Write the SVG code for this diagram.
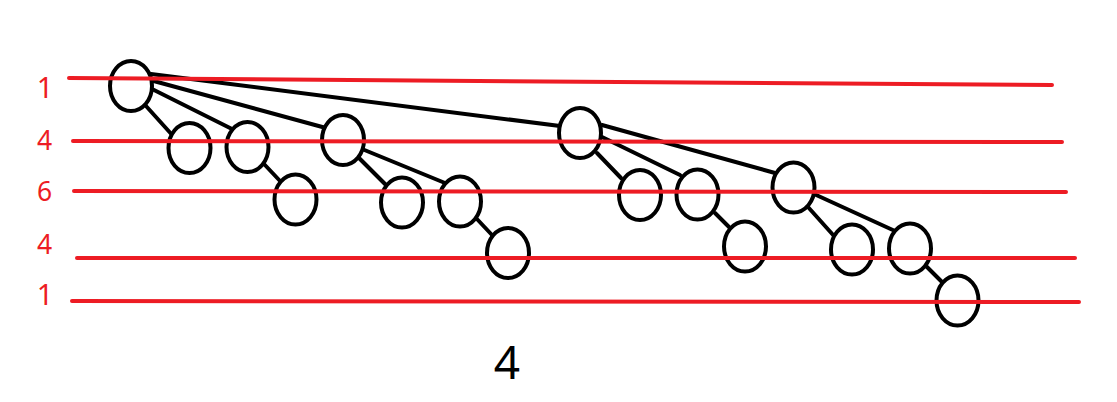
<svg xmlns="http://www.w3.org/2000/svg" width="1117" height="402" viewBox="0 0 1117 402">
<style>
.n ellipse{fill:#fff;stroke:#000;stroke-width:4}
.e line{stroke:#000;stroke-width:4;stroke-linecap:round}
.lv line{stroke:#ED1C24;stroke-width:4;stroke-linecap:round}
.lbl{font-family:"Noto Sans","Liberation Sans",sans-serif;font-size:26.5px;fill:#ED1C24;text-anchor:middle}
.lbl1{font-size:29px}
.cap{font-family:"Noto Sans","Liberation Sans",sans-serif;font-size:46px;fill:#000;text-anchor:middle}
</style>
<rect width="1117" height="402" fill="#fff"/>
<g id="connectors" class="e">
<line x1="151" y1="74" x2="560" y2="126"/>
<line x1="150" y1="80" x2="326" y2="128"/>
<line x1="150" y1="88" x2="234" y2="130"/>
<line x1="146" y1="106" x2="174" y2="137"/>
<line x1="264" y1="164" x2="281" y2="182"/>
<line x1="357" y1="156" x2="386" y2="185"/>
<line x1="362" y1="149" x2="445" y2="183"/>
<line x1="476" y1="218" x2="492" y2="235"/>
<line x1="597" y1="153" x2="621" y2="178"/>
<line x1="602" y1="137" x2="680" y2="175"/>
<line x1="602" y1="125" x2="775" y2="173"/>
<line x1="715" y1="213" x2="729" y2="227"/>
<line x1="808" y1="207" x2="834" y2="236"/>
<line x1="814" y1="194" x2="895" y2="231"/>
<line x1="926" y1="266" x2="942" y2="282"/>
</g>
<g class="n">
<g id="n0"><ellipse cx="131" cy="86" rx="21" ry="25"/></g>
<g id="n1"><ellipse cx="189.5" cy="148" rx="21" ry="25"/></g>
<g id="n2"><ellipse cx="247.5" cy="147" rx="21" ry="25"/></g>
<g id="n3"><ellipse cx="295.5" cy="199.5" rx="21" ry="25"/></g>
<g id="n4"><ellipse cx="343" cy="140" rx="21" ry="25"/></g>
<g id="n5"><ellipse cx="402" cy="202.5" rx="21" ry="25"/></g>
<g id="n6"><ellipse cx="460" cy="201.5" rx="21" ry="25"/></g>
<g id="n7"><ellipse cx="508" cy="253" rx="21" ry="25"/></g>
<g id="n8"><ellipse cx="580" cy="133" rx="21" ry="25"/></g>
<g id="n9"><ellipse cx="640" cy="195" rx="21" ry="25"/></g>
<g id="n10"><ellipse cx="697.5" cy="194.5" rx="21" ry="25"/></g>
<g id="n11"><ellipse cx="745" cy="246.5" rx="21" ry="25"/></g>
<g id="n12"><ellipse cx="793.5" cy="187.5" rx="21" ry="25"/></g>
<g id="n13"><ellipse cx="852" cy="249.5" rx="21" ry="25"/></g>
<g id="n14"><ellipse cx="910" cy="248.5" rx="21" ry="25"/></g>
<g id="n15"><ellipse cx="957.5" cy="300.5" rx="21" ry="25"/></g>
</g>
<g id="levels" class="lv">
<line x1="69" y1="78" x2="1052" y2="85"/>
<line x1="73" y1="141" x2="1062" y2="142"/>
<line x1="74" y1="191" x2="1066" y2="192"/>
<line x1="77" y1="258" x2="1075" y2="258"/>
<line x1="72" y1="301" x2="1079" y2="302"/>
</g>
<g id="labels">
<text class="lbl lbl1" x="45" y="98">1</text>
<text class="lbl" x="44.5" y="150">4</text>
<text class="lbl" x="44.5" y="201">6</text>
<text class="lbl" x="44.5" y="254">4</text>
<text class="lbl lbl1" x="45" y="305">1</text>
</g>
<text class="cap" x="507" y="379">4</text>
</svg>
